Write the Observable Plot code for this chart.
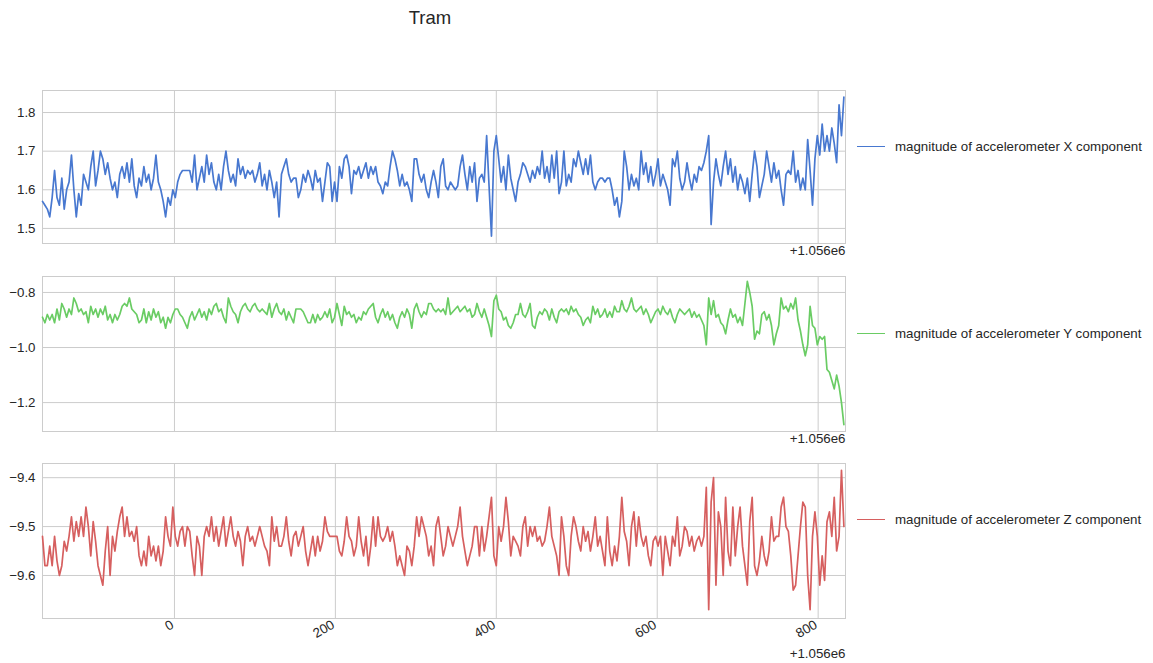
<!DOCTYPE html>
<html><head><meta charset="utf-8">
<script src="https://cdn.jsdelivr.net/npm/d3@7"></script>
<script src="https://cdn.jsdelivr.net/npm/@observablehq/plot@0.6"></script>
<style>
body{margin:0;background:#fff;}
#fig{position:relative;width:1153px;height:663px;font-family:"Liberation Sans",Arial,sans-serif;color:#262626;overflow:hidden;}
.abs{position:absolute;white-space:nowrap;}
</style></head><body><div id="fig"></div>
<script>
const title = "Tram";
const xStart = 1055836, xStep = 3, xOffset = 1056000;
const xDomain = [1055836, 1056834];
const xTickLabels = [0, 200, 400, 600, 800];
const offsetLabel = "+1.056e6";
const seriesNames = ["magnitude of accelerometer X component", "magnitude of accelerometer Y component", "magnitude of accelerometer Z component"];
const seriesColors = ["#4878d0", "#6acc64", "#d65f5f"];
const ticksX = [1.5, 1.6, 1.7, 1.8];
const ticksY = [-1.2, -1.0, -0.8];
const ticksZ = [-9.6, -9.5, -9.4];

const accX = [1.57,1.56,1.55,1.53,1.58,1.65,1.58,1.56,1.63,1.55,
1.60,1.62,1.69,1.60,1.53,1.59,1.56,1.64,1.62,1.60,
1.66,1.70,1.61,1.65,1.70,1.68,1.64,1.67,1.63,1.60,
1.62,1.58,1.64,1.66,1.63,1.67,1.62,1.68,1.61,1.58,
1.63,1.61,1.66,1.62,1.64,1.60,1.63,1.69,1.62,1.60,
1.57,1.53,1.58,1.56,1.60,1.58,1.62,1.64,1.65,1.65,
1.65,1.65,1.62,1.69,1.60,1.63,1.66,1.62,1.69,1.64,
1.67,1.62,1.60,1.64,1.60,1.66,1.70,1.65,1.62,1.64,
1.61,1.68,1.64,1.66,1.63,1.65,1.64,1.65,1.62,1.64,
1.67,1.61,1.64,1.60,1.65,1.62,1.58,1.62,1.53,1.64,
1.66,1.68,1.64,1.62,1.63,1.63,1.58,1.60,1.64,1.62,1.65,
1.63,1.60,1.65,1.62,1.63,1.57,1.62,1.67,1.66,1.57,
1.62,1.57,1.66,1.63,1.68,1.69,1.66,1.59,1.65,1.64,
1.66,1.63,1.65,1.67,1.63,1.66,1.64,1.66,1.62,1.61,
1.59,1.62,1.61,1.66,1.70,1.68,1.65,1.61,1.64,1.61,
1.62,1.60,1.57,1.68,1.68,1.64,1.62,1.64,1.60,1.58,
1.62,1.65,1.62,1.58,1.66,1.68,1.61,1.60,1.62,1.61,
1.60,1.61,1.66,1.69,1.64,1.60,1.66,1.62,1.67,1.57,
1.63,1.64,1.62,1.74,1.61,1.48,1.70,1.74,1.68,1.62,
1.66,1.60,1.69,1.63,1.60,1.57,1.62,1.64,1.67,1.66,
1.64,1.62,1.65,1.63,1.66,1.64,1.70,1.63,1.66,1.62,
1.69,1.63,1.70,1.59,1.62,1.70,1.61,1.64,1.62,1.68,
1.66,1.70,1.67,1.64,1.68,1.64,1.69,1.62,1.60,1.62,
1.63,1.63,1.62,1.63,1.63,1.60,1.56,1.58,1.53,1.57,
1.70,1.66,1.60,1.64,1.61,1.63,1.60,1.70,1.64,1.67,
1.62,1.66,1.61,1.64,1.68,1.61,1.64,1.62,1.60,1.56,
1.68,1.66,1.70,1.63,1.60,1.62,1.67,1.63,1.60,1.64,
1.62,1.66,1.65,1.67,1.70,1.74,1.51,1.62,1.68,1.64,
1.61,1.66,1.70,1.64,1.68,1.62,1.66,1.60,1.64,1.62,
1.59,1.63,1.57,1.64,1.70,1.66,1.58,1.61,1.64,1.70,
1.66,1.62,1.67,1.63,1.65,1.60,1.56,1.64,1.65,1.64,
1.70,1.62,1.65,1.60,1.63,1.60,1.73,1.65,1.56,1.68,
1.74,1.69,1.77,1.70,1.74,1.70,1.76,1.72,1.67,1.82,1.74,1.84];

const accY = [-0.89,-0.91,-0.88,-0.90,-0.88,-0.91,-0.86,-0.90,-0.84,-0.86,
-0.89,-0.86,-0.88,-0.82,-0.84,-0.87,-0.86,-0.88,-0.87,-0.91,
-0.85,-0.88,-0.86,-0.89,-0.86,-0.88,-0.85,-0.90,-0.88,-0.91,
-0.88,-0.90,-0.88,-0.85,-0.84,-0.85,-0.82,-0.86,-0.87,-0.88,
-0.91,-0.90,-0.86,-0.91,-0.87,-0.90,-0.86,-0.89,-0.87,-0.91,
-0.89,-0.93,-0.89,-0.91,-0.88,-0.86,-0.86,-0.88,-0.89,-0.91,
-0.93,-0.89,-0.87,-0.90,-0.88,-0.86,-0.89,-0.87,-0.90,-0.86,
-0.88,-0.85,-0.84,-0.87,-0.86,-0.89,-0.91,-0.82,-0.85,-0.87,
-0.88,-0.91,-0.87,-0.85,-0.84,-0.86,-0.87,-0.85,-0.84,-0.86,
-0.87,-0.86,-0.87,-0.88,-0.84,-0.89,-0.86,-0.84,-0.87,-0.88,
-0.86,-0.90,-0.87,-0.89,-0.91,-0.86,-0.86,-0.86,-0.87,-0.89,-0.91,
-0.91,-0.88,-0.91,-0.88,-0.90,-0.89,-0.87,-0.89,-0.86,-0.91,
-0.89,-0.84,-0.88,-0.92,-0.85,-0.88,-0.87,-0.89,-0.88,-0.91,
-0.89,-0.90,-0.87,-0.88,-0.86,-0.85,-0.84,-0.89,-0.91,-0.88,
-0.86,-0.89,-0.87,-0.90,-0.88,-0.91,-0.93,-0.89,-0.87,-0.89,
-0.86,-0.88,-0.93,-0.86,-0.84,-0.87,-0.89,-0.87,-0.88,-0.84,
-0.84,-0.86,-0.87,-0.86,-0.87,-0.86,-0.88,-0.82,-0.88,-0.87,
-0.86,-0.85,-0.87,-0.86,-0.85,-0.87,-0.86,-0.89,-0.88,-0.84,
-0.87,-0.89,-0.86,-0.89,-0.92,-0.96,-0.83,-0.81,-0.86,-0.87,
-0.90,-0.89,-0.92,-0.93,-0.91,-0.88,-0.88,-0.84,-0.88,-0.89,
-0.87,-0.84,-0.92,-0.93,-0.89,-0.87,-0.88,-0.86,-0.87,-0.90,
-0.86,-0.89,-0.91,-0.87,-0.86,-0.87,-0.86,-0.88,-0.85,-0.87,
-0.86,-0.88,-0.89,-0.92,-0.90,-0.89,-0.91,-0.85,-0.88,-0.86,
-0.89,-0.88,-0.86,-0.89,-0.87,-0.89,-0.85,-0.87,-0.87,-0.83,
-0.86,-0.87,-0.85,-0.82,-0.86,-0.87,-0.86,-0.85,-0.88,-0.86,
-0.88,-0.91,-0.89,-0.87,-0.86,-0.88,-0.85,-0.87,-0.88,-0.86,
-0.89,-0.91,-0.88,-0.86,-0.87,-0.88,-0.87,-0.86,-0.89,-0.87,
-0.89,-0.88,-0.90,-0.92,-0.99,-0.82,-0.88,-0.83,-0.89,-0.88,
-0.91,-0.92,-0.95,-0.90,-0.86,-0.89,-0.88,-0.91,-0.89,-0.92,
-0.84,-0.76,-0.80,-0.85,-0.97,-0.94,-0.95,-0.88,-0.87,-0.90,
-0.88,-0.92,-0.99,-0.95,-0.92,-0.82,-0.86,-0.85,-0.87,-0.84,
-0.86,-0.82,-0.90,-0.94,-0.99,-1.03,-0.99,-0.85,-0.92,-0.93,
-0.99,-0.96,-0.97,-0.96,-1.08,-1.09,-1.12,-1.15,-1.10,-1.14,-1.20,-1.28];

const accZ = [-9.52,-9.58,-9.58,-9.54,-9.58,-9.52,-9.57,-9.60,-9.58,-9.53,
-9.55,-9.52,-9.48,-9.53,-9.49,-9.52,-9.48,-9.52,-9.46,-9.50,
-9.56,-9.49,-9.53,-9.58,-9.60,-9.62,-9.55,-9.50,-9.60,-9.52,
-9.55,-9.51,-9.48,-9.46,-9.52,-9.48,-9.52,-9.51,-9.53,-9.50,
-9.56,-9.58,-9.55,-9.58,-9.52,-9.56,-9.54,-9.57,-9.54,-9.58,
-9.55,-9.48,-9.52,-9.54,-9.46,-9.52,-9.54,-9.51,-9.50,-9.54,
-9.50,-9.51,-9.56,-9.60,-9.52,-9.54,-9.60,-9.52,-9.50,-9.52,
-9.48,-9.53,-9.50,-9.54,-9.51,-9.48,-9.54,-9.51,-9.48,-9.52,
-9.54,-9.51,-9.53,-9.58,-9.52,-9.50,-9.53,-9.52,-9.54,-9.52,
-9.50,-9.52,-9.54,-9.55,-9.58,-9.48,-9.53,-9.50,-9.54,-9.54,
-9.52,-9.48,-9.53,-9.56,-9.52,-9.51,-9.54,-9.52,-9.50,-9.55,-9.58,
-9.55,-9.52,-9.56,-9.52,-9.55,-9.53,-9.48,-9.51,-9.52,-9.52,
-9.52,-9.52,-9.55,-9.56,-9.53,-9.48,-9.52,-9.53,-9.56,-9.54,
-9.48,-9.53,-9.56,-9.52,-9.58,-9.54,-9.48,-9.54,-9.48,-9.52,
-9.53,-9.52,-9.50,-9.53,-9.51,-9.54,-9.58,-9.56,-9.58,-9.60,
-9.54,-9.55,-9.58,-9.54,-9.48,-9.52,-9.48,-9.50,-9.52,-9.56,
-9.54,-9.58,-9.50,-9.48,-9.52,-9.56,-9.54,-9.50,-9.52,-9.54,
-9.52,-9.50,-9.46,-9.52,-9.55,-9.58,-9.56,-9.54,-9.50,-9.50,
-9.56,-9.50,-9.55,-9.52,-9.48,-9.44,-9.56,-9.58,-9.50,-9.53,
-9.50,-9.44,-9.49,-9.56,-9.52,-9.53,-9.54,-9.56,-9.50,-9.48,
-9.54,-9.50,-9.52,-9.50,-9.53,-9.52,-9.54,-9.53,-9.50,-9.46,
-9.52,-9.54,-9.56,-9.60,-9.48,-9.52,-9.58,-9.60,-9.52,-9.48,
-9.50,-9.53,-9.55,-9.50,-9.53,-9.51,-9.55,-9.52,-9.48,-9.54,
-9.52,-9.55,-9.58,-9.48,-9.55,-9.58,-9.54,-9.57,-9.52,-9.44,
-9.51,-9.53,-9.58,-9.50,-9.47,-9.54,-9.48,-9.52,-9.54,-9.52,
-9.56,-9.58,-9.53,-9.52,-9.54,-9.52,-9.60,-9.52,-9.55,-9.58,
-9.52,-9.54,-9.48,-9.56,-9.54,-9.50,-9.51,-9.54,-9.52,-9.55,
-9.53,-9.52,-9.54,-9.52,-9.42,-9.67,-9.45,-9.40,-9.62,-9.47,
-9.50,-9.60,-9.44,-9.55,-9.58,-9.46,-9.56,-9.50,-9.46,-9.54,
-9.58,-9.62,-9.49,-9.44,-9.58,-9.60,-9.57,-9.52,-9.56,-9.58,
-9.55,-9.48,-9.53,-9.52,-9.52,-9.46,-9.44,-9.50,-9.51,-9.56,
-9.63,-9.62,-9.56,-9.50,-9.45,-9.46,-9.60,-9.67,-9.52,-9.47,
-9.52,-9.62,-9.56,-9.61,-9.49,-9.47,-9.52,-9.44,-9.55,-9.52,-9.385,-9.50];

const fig = document.getElementById("fig");
const FONT = '"Liberation Sans", Arial, sans-serif';
const GRID = "#cccccc";
const TXT = "#262626";

const panels = [
  {values: accX, domain: [1.461, 1.857], ticks: ticksX, top: 90, h: 153, legendY: 147},
  {values: accY, domain: [-1.305, -0.742], ticks: ticksY, top: 276, h: 155, legendY: 334},
  {values: accZ, domain: [-9.688, -9.371], ticks: ticksZ, top: 463, h: 155, legendY: 520}
];
const xTicksAbs = xTickLabels.map(t => t + xOffset);
const fmtY = d3.format(".1f");

panels.forEach((p, k) => {
  const last = k === panels.length - 1;
  const mt = 4, mb = last ? 46 : 20;
  const data = p.values.map((v, i) => ({x: xStart + i * xStep, y: v}));
  const marks = [
    Plot.gridX(xTicksAbs, {stroke: GRID, strokeOpacity: 1, strokeWidth: 1}),
    Plot.gridY(p.ticks, {stroke: GRID, strokeOpacity: 1, strokeWidth: 1}),
    Plot.frame({stroke: GRID, strokeWidth: 1}),
    Plot.axisY(p.ticks, {tickSize: 0, tickPadding: 7, tickFormat: fmtY, fontSize: 13.3, fill: TXT, label: null}),
    Plot.lineY(data, {x: "x", y: "y", stroke: seriesColors[k], strokeWidth: 1.7}),
    Plot.text([offsetLabel], {frameAnchor: "bottom-right", lineAnchor: "top", dy: last ? 30 : 2, fontSize: 13.3, fill: TXT})
  ];
  if (last) {
    marks.push(Plot.axisX(xTicksAbs, {tickSize: 0, tickPadding: 5, tickRotate: -30, textAnchor: "end", dx: -2, fontSize: 13.3, fill: TXT, label: null, tickFormat: d => String(d - xOffset)}));
  }
  const chart = Plot.plot({
    width: 1153, height: p.h + mt + mb,
    marginLeft: 42, marginRight: 308, marginTop: mt, marginBottom: mb,
    style: {fontFamily: FONT, color: TXT, background: "transparent", overflow: "visible"},
    x: {domain: xDomain, axis: last ? undefined : null, label: null},
    y: {domain: p.domain, label: null},
    marks
  });
  chart.style.position = "absolute";
  chart.style.left = "0px";
  chart.style.top = (p.top - mt) + "px";
  fig.appendChild(chart);

  const line = document.createElement("div");
  line.className = "abs";
  Object.assign(line.style, {left: "857px", top: (p.legendY - 0.8) + "px", width: "28px", height: "0", borderTop: `1.6px solid ${seriesColors[k]}`});
  fig.appendChild(line);
  const lab = document.createElement("div");
  lab.className = "abs";
  lab.textContent = seriesNames[k];
  Object.assign(lab.style, {left: "895px", top: (p.legendY - 8) + "px", fontSize: "13.3px", lineHeight: "16px", color: TXT});
  fig.appendChild(lab);
});

const t = document.createElement("div");
t.className = "abs";
t.textContent = title;
Object.assign(t.style, {left: "330px", width: "200px", textAlign: "center", top: "7px", fontSize: "18.5px", lineHeight: "22px", color: TXT});
fig.appendChild(t);
</script>
</body></html>
